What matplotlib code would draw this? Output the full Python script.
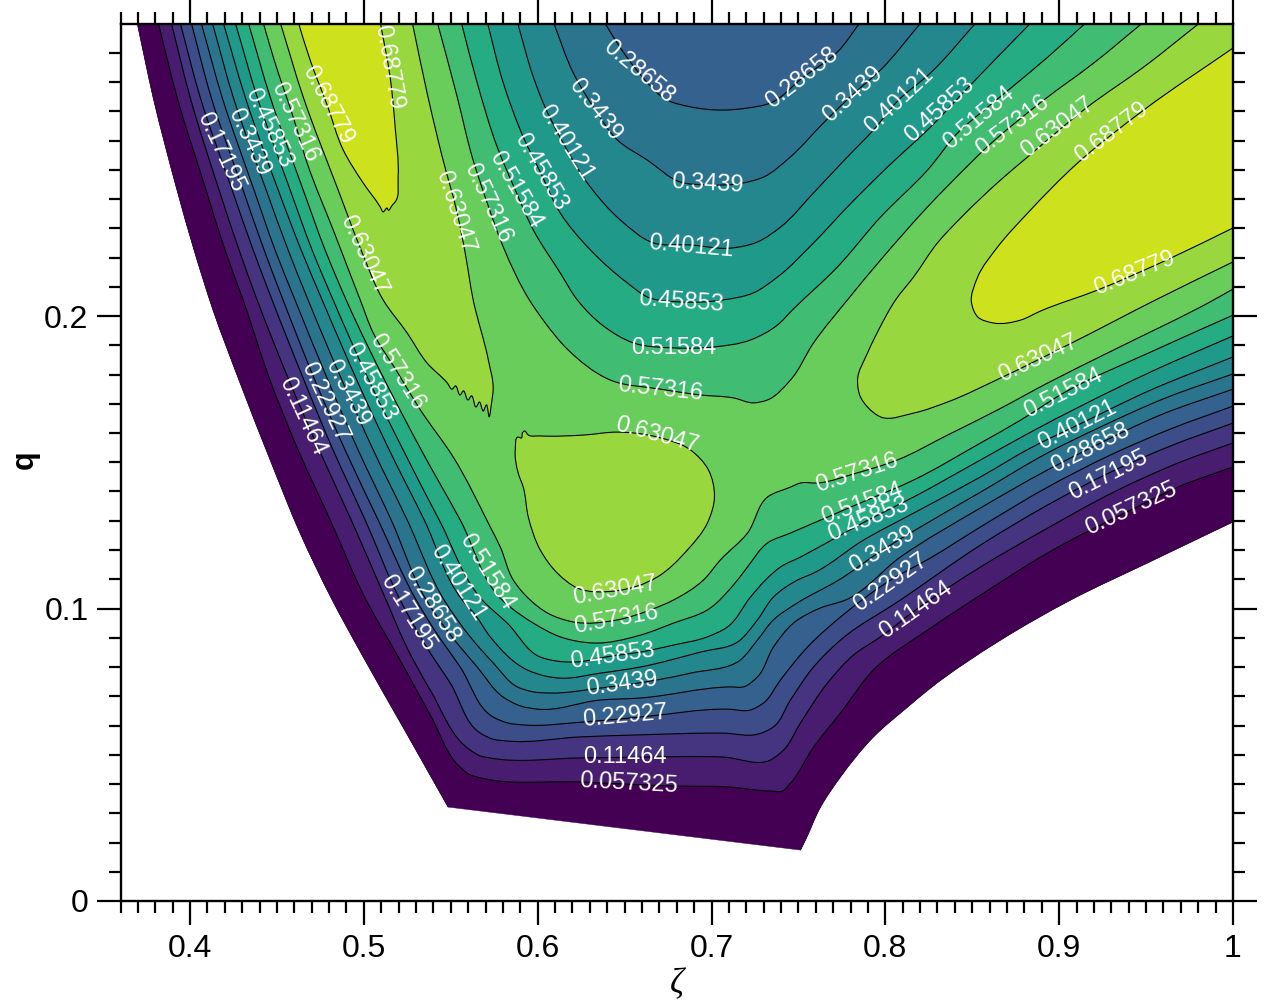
import numpy as np
import matplotlib
matplotlib.use("Agg")
import matplotlib.pyplot as plt
from matplotlib.path import Path
from matplotlib.patches import PathPatch
from matplotlib.ticker import FixedLocator, FixedFormatter, MultipleLocator

plt.rcParams['font.family'] = ['Liberation Sans', 'DejaVu Sans']

levels = [0.057325, 0.11464, 0.17195, 0.22927, 0.28658, 0.3439, 0.40121,
          0.45853, 0.51584, 0.57316, 0.63047, 0.68779]
xticks = [0.4, 0.5, 0.6, 0.7, 0.8, 0.9, 1.0]
xticklabels = ['0.4', '0.5', '0.6', '0.7', '0.8', '0.9', '1']
yticks = [0, 0.1, 0.2]
yticklabels = ['0', '0.1', '0.2']

# outline of the region that has data (zeta, q)
edge_left = [(.3695,.3005),(.3741,.2875),(.3787,.2749),(.3856,.2585),(.3925,.2431),(.4023,.2226),(.4132,.2021),
             (.4288,.1771),(.4461,.1508),(.4633,.1258),(.4812,.1036),(.4990,.0841),(.5215,.0605),(.5485,.0321)]
edge_right = [(.7512,.0174),(.7541,.0209),(.7627,.0321),(.7742,.0424),(.7932,.0561),(.8128,.0663),(.8260,.0728),
              (.8663,.0892),(.9066,.1029),(.9509,.1156),(1.0,.1296)]

# contour lines (zeta, q)
c01 = [(.3816,.3005),(.3925,.2749),(.4092,.2431),(.4201,.2226),(.4305,.2055),(.4466,.1771),(.4622,.1542),(.4806,.1303),
       (.5013,.1029),(.5192,.0841),(.5382,.0636),(.5554,.0458),(.5612,.0431),(.5652,.0424),(.6245,.0407),(.6804,.0393),
       (.7092,.0390),(.7339,.0376),(.7408,.0376),(.7454,.0403),(.7587,.0526),(.7742,.0643),(.7932,.0790),(.8260,.0933),
       (.8548,.1046),(.8934,.1190),(.9412,.1337),(.9699,.1419),(1.0,.1484)]
c02 = [(.3891,.3005),(.4,.2749),(.4167,.2431),(.4282,.2226),(.4386,.2055),(.4576,.1771),(.4743,.1542),(.4927,.1303),
       (.5128,.1029),(.5249,.0865),(.5382,.0721),(.5612,.0516),(.5670,.0496),(.5727,.0489),(.6245,.0489),(.6591,.0492),
       (.7068,.0492),(.7339,.0482),(.7414,.0516),(.7512,.0609),(.7667,.0745),(.7817,.0841),(.7972,.0903),(.8174,.0995),
       (.8548,.1142),(.8934,.1275),(.9314,.1398),(.9699,.1501),(1.0,.1566)]
c03 = [(.3942,.3005),(.4058,.2749),(.4242,.2431),(.4363,.2226),(.4472,.2055),(.4662,.1771),(.4823,.1542),(.5007,.1303),
       (.5209,.1029),(.5364,.0865),(.5497,.0745),(.5670,.0574),(.5739,.0554),(.5825,.0547),(.6245,.0561),(.6591,.0568),
       (.7068,.0574),(.7270,.0571),(.7356,.0595),(.7454,.0687),(.7587,.0800),(.7742,.0892),(.8087,.1029),(.8548,.1217),
       (.8934,.1354),(.9285,.1463),(.9642,.1556),(1.0,.1634)]
c04 = [(.4006,.3005),(.4121,.2749),(.4305,.2431),(.4426,.2226),(.4535,.2055),(.4725,.1771),(.4892,.1542),(.5082,.1303),
       (.5301,.1029),(.5399,.0933),(.5554,.0800),(.5744,.0629),(.5825,.0609),(.5917,.0602),(.6263,.0612),(.6591,.0629),
       (.7092,.0656),(.7224,.0653),(.7299,.0677),(.7397,.0756),(.7552,.0868),(.7771,.0985),(.8030,.1097),(.8260,.1173),
       (.8548,.1279),(.8934,.1415),(.9296,.1525),(.9642,.1614),(1.0,.1692)]
c05 = [(.4063,.3005),(.4184,.2749),(.4368,.2431),(.4489,.2226),(.4604,.2055),(.4800,.1771),(.4967,.1542),(.5157,.1303),
       (.5359,.1029),(.5485,.0920),(.5652,.0800),(.5802,.0697),(.5900,.0667),(.5998,.0656),(.6360,.0687),(.6591,.0694),
       (.7109,.0732),(.7184,.0732),(.7264,.0766),(.7356,.0868),(.7471,.0950),(.7627,.1002),(.7771,.1029),(.8087,.1176),
       (.8548,.1344),(.8934,.1474),(.9181,.1549),(.9584,.1662),(1.0,.1750)]
c05_top = [(.6383,.3005),(.6476,.2916),(.6579,.2834),(.6746,.2738),(.6879,.2715),(.7063,.2704),(.7207,.2711),(.7339,.2728),
           (.7523,.2814),(.7725,.2903),(.7857,.3005)]
c06 = [(.4127,.3005),(.4248,.2749),(.4438,.2431),(.4564,.2226),(.4679,.2055),(.4881,.1771),(.5054,.1542),(.5249,.1303),
       (.5462,.1029),(.5612,.0903),(.5744,.0814),(.5883,.0732),(.5975,.0715),(.6072,.0711),(.6360,.0728),(.6689,.0756),
       (.6879,.0779),(.7166,.0824),(.7264,.0892),(.7356,.0961),(.7494,.1019),(.7731,.1097),(.7984,.1200),(.8203,.1279),
       (.8548,.1398),(.8934,.1532),(.9239,.1621),(.9613,.1720),(1.0,.1802)]
c06_top = [(.6090,.3005),(.6205,.2831),(.6332,.2704),(.6458,.2602),(.6631,.2533),(.6821,.2458),(.6982,.2448),(.7184,.2455),
           (.7299,.2475),(.7454,.2544),(.7644,.2660),(.7811,.2756),(.7972,.2841),(.8208,.3005)]
c07 = [(.4190,.3005),(.4317,.2749),(.4507,.2431),(.4639,.2226),(.4760,.2055),(.4967,.1771),(.5146,.1542),(.5347,.1303),
       (.5566,.1029),(.5641,.0978),(.5727,.0903),(.5940,.0790),(.6044,.0769),(.6130,.0762),(.6360,.0779),(.6591,.0800),
       (.6936,.0851),(.7149,.0885),(.7264,.0961),(.7356,.1039),(.7494,.1097),(.7587,.1121),(.7875,.1234),(.8162,.1326),
       (.8548,.1450),(.8836,.1549),(.9106,.1627),(.9527,.1747),(1.0,.1860)]
c07_top = [(.5883,.3005),(.5975,.2817),(.6032,.2728),(.6147,.2591),(.6303,.2441),(.6476,.2328),(.6665,.2250),(.6879,.2243),
           (.7109,.2232),(.7264,.2253),(.7397,.2304),(.7587,.2421),(.7782,.2544),(.7932,.2636),(.8076,.2738),(.8260,.2831),
           (.8525,.3005)]
c08 = [(.4259,.3005),(.4386,.2749),(.4576,.2431),(.4702,.2226),(.4823,.2055),(.5036,.1771),(.5226,.1542),(.5433,.1303),
       (.5681,.1029),(.5825,.0950),(.6015,.0834),(.6101,.0821),(.6205,.0817),(.6429,.0838),(.6591,.0851),(.6781,.0875),
       (.6976,.0903),(.7092,.0937),(.7224,.1039),(.7310,.1097),(.7397,.1142),(.7512,.1176),(.7587,.1200),(.7903,.1303),
       (.8162,.1381),(.8548,.1508),(.8836,.1603),(.9124,.1692),(.9527,.1809),(1.0,.1932)]
c08_top = [(.5710,.3005),(.5802,.2797),(.5917,.2612),(.6015,.2492),(.6130,.2352),(.6303,.2226),(.6516,.2113),(.6631,.2065),
           (.6827,.2048),(.7068,.2055),(.7241,.2079),(.7379,.2133),(.7587,.2250),(.7782,.2373),(.8012,.2509),(.8260,.2646),
           (.8490,.2790),(.8842,.3005)]
c09 = [(.4334,.3005),(.4461,.2749),(.4651,.2431),(.4777,.2226),(.4898,.2055),(.5128,.1771),(.5330,.1542),(.5554,.1303),
       (.5796,.1029),(.5842,.1005),(.5975,.0950),(.6130,.0903),(.6320,.0882),(.6591,.0909),(.6781,.0950),(.6976,.0995),
       (.7149,.1097),(.7207,.1142),(.7322,.1224),(.7454,.1258),(.7587,.1292),(.7869,.1364),(.8162,.1439),(.8548,.1566),
       (.8778,.1644),(.9026,.1737),(.9527,.1877),(1.0,.2003)]
c09_top = [(.5560,.3005),(.5652,.2797),(.5767,.2578),(.5871,.2431),(.5975,.2294),(.6130,.2147),(.6228,.2055),(.6378,.1966),
           (.6550,.1908),(.6781,.1891),(.7011,.1894),(.7224,.1918),(.7379,.1969),(.7466,.2021),(.7725,.2168),(.7972,.2338),
           (.8243,.2499),(.8433,.2636),(.8548,.2694),(.8709,.2773),(.8934,.2885),(.9158,.3005)]
c10 = [(.4420,.3005),(.4484,.2875),(.4599,.2670),(.4668,.2533),(.4835,.2277),(.4979,.2055),(.5054,.1942),(.5192,.1809),
       (.5325,.1679),(.5514,.1518),(.5727,.1279),(.5785,.1210),(.5860,.1097),(.5957,.1029),(.6055,.0985),(.6205,.0954),
       (.6458,.0961),(.6648,.0995),(.6781,.1029),(.6953,.1097),(.7051,.1166),(.7207,.1258),(.7322,.1381),(.7454,.1415),
       (.7512,.1429),(.7610,.1429),(.7834,.1463),(.8070,.1508),(.8358,.1593),(.8646,.1679),(.8934,.1771),(.9314,.1884),
       (.9889,.2055),(1.0,.2092)]
c10_top = [(.5422,.3005),(.5537,.2749),(.5623,.2544),(.5710,.2386),(.5802,.2236),(.5952,.2055),(.6044,.1976),(.6170,.1887),
           (.6418,.1781),(.6706,.1750),(.6936,.1730),(.7126,.1720),(.7241,.1703),(.7322,.1713),(.7454,.1781),(.7587,.1908),
           (.7782,.2055),(.7972,.2191),(.8243,.2373),(.8490,.2523),(.8548,.2557),(.8911,.2738),(.9199,.2865),(.9486,.3005)]
c11_lobe = [(.4518,.3005),(.4651,.2749),(.4852,.2431),(.4984,.2226),(.5111,.2055),(.5249,.1942),(.5364,.1839),(.5480,.1771),
            (.5508,.1750),(.5526,.1761),(.5554,.1730),(.5572,.1744),(.5600,.1713),(.5618,.1727),(.5646,.1689),(.5664,.1706),
            (.5687,.1675),(.5704,.1696),(.5721,.1655),(.5733,.1696),(.5744,.1754),(.5716,.1850),
            (.5629,.2055),(.5583,.2215),(.5537,.2352),(.5451,.2544),(.5364,.2762),(.5278,.3005)]
c11_blob = [(.5911,.1600),(.5906,.1583),(.5888,.1586),(.5871,.1542),(.5888,.1463),(.5917,.1415),(.5946,.1313),(.6015,.1200),(.6113,.1121),
            (.6228,.1070),(.6447,.1060),(.6689,.1108),(.6861,.1200),(.6976,.1292),(.7017,.1381),(.6982,.1474),(.6879,.1542),
            (.6689,.1586),(.6458,.1603),(.6263,.1593),(.6015,.1590),(.5946,.1593),(.5923,.1607),(.5911,.1600)]
c11_right = [(.9815,.3005),(.9486,.2851),(.9164,.2715),(.8819,.2544),(.8663,.2465),(.8433,.2335),(.8300,.2250),(.8162,.2133),
             (.8059,.2055),(.7961,.1952),(.7897,.1873),(.7840,.1781),(.7857,.1723),(.7897,.1689),(.7972,.1655),(.8162,.1668),
             (.8358,.1706),(.8663,.1788),(.9083,.1911),(.9555,.2055),(1.0,.2185)]
c12_lobe = [(.4622,.3005),(.4691,.2875),(.4789,.2721),(.4881,.2568),(.4996,.2455),(.5094,.2373),(.5111,.2356),(.5134,.2369),
            (.5140,.2362),(.5165,.2380),(.5180,.2390),(.5197,.2475),(.5180,.2646),(.5151,.2817),(.5094,.3005)]
c12_right = [(1.0,.2916),(.9486,.2704),(.9106,.2523),(.8819,.2352),(.8646,.2236),(.8531,.2133),(.8496,.2044),(.8531,.1997),
             (.8623,.1976),(.8778,.1986),(.8893,.2017),(.9222,.2089),(.9642,.2198),(1.0,.2301)]

# contour labels: text, zeta, q, angle as seen on the chart
label_text = ['0.68779','0.68779','0.57316','0.45853','0.3439','0.17195','0.63047','0.28658','0.3439','0.40121','0.45853',
              '0.51584','0.57316','0.63047','0.28658','0.3439','0.40121','0.45853','0.51584','0.57316','0.63047','0.68779',
              '0.3439','0.40121','0.45853','0.51584','0.57316','0.63047','0.68779','0.63047','0.51584','0.40121','0.28658',
              '0.17195','0.057325','0.57316','0.51584','0.45853','0.3439','0.22927','0.11464','0.63047','0.57316','0.45853',
              '0.3439','0.22927','0.11464','0.057325','0.57316','0.45853','0.3439','0.22927','0.11464','0.51584','0.40121',
              '0.28658','0.17195']
label_x = [.5140,.4789,.4604,.4449,.4340,.4173,.4996,.6579,.6332,.6159,.6015,.5871,.5710,.5526,.7523,.7811,.8082,.8312,.8537,
           .8732,.8991,.9302,.6976,.6884,.6827,.6781,.6706,.6689,.9435,.8882,.9026,.9106,.9181,.9285,.9412,.7834,.7869,.7903,
           .7984,.8030,.8174,.6447,.6452,.6429,.6487,.6504,.6504,.6522,.5192,.5036,.4904,.4777,.4645,.5710,.5543,.5393,.5255]
label_y = [.2851,.2721,.2663,.2643,.2595,.2561,.2209,.2834,.2704,.2591,.2492,.2431,.2386,.2356,.2814,.2756,.2738,.2704,.2677,
           .2653,.2646,.2626,.2451,.2236,.2048,.1891,.1750,.1593,.2147,.1856,.1737,.1627,.1549,.1456,.1340,.1463,.1357,.1303,
           .1200,.1087,.0995,.1060,.0961,.0838,.0742,.0632,.0492,.0403,.1809,.1774,.1737,.1706,.1658,.1125,.1087,.1012,.0985]
label_angle = [-80,-62,-65,-65,-65,-65,-65,-40,-52,-58,-60,-60,-65,-72,38,42,43,42,40,37,37,37,-3,-5,-4,0,-6,-15,22,25,27,27,
               27,27,25,18,20,22,30,35,35,10,10,8,8,5,0,-3,-58,-62,-62,-65,-65,-58,-58,-58,-58]


def run(pts):
    """Bezier segments through the given vertices (no MOVETO), chord-length tangents."""
    p = np.asarray(pts, float)
    scale = np.array([1737.0, 2925.0])
    q = p * scale
    n = len(q)
    d = np.maximum(np.hypot(*(q[1:] - q[:-1]).T), 1e-6)
    m = np.zeros_like(q)
    m[0] = (q[1] - q[0]) / d[0]
    m[-1] = (q[-1] - q[-2]) / d[-1]
    for i in range(1, n - 1):
        m[i] = ((q[i + 1] - q[i]) / d[i] * d[i - 1] + (q[i] - q[i - 1]) / d[i - 1] * d[i]) / (d[i - 1] + d[i])
    v, c = [], []
    for i in range(n - 1):
        v += [(q[i] + m[i] * d[i] / 3) / scale, (q[i + 1] - m[i + 1] * d[i] / 3) / scale, p[i + 1]]
        c += [Path.CURVE4] * 3
    return v, c


def shape(*parts):
    """Closed path; lists are smooth runs joined by straight sides."""
    verts, codes = [], []
    for pts in parts:
        verts.append(np.array(pts[0], float))
        codes.append(Path.LINETO if len(verts) > 1 else Path.MOVETO)
        v, c = run(pts)
        verts += v
        codes += c
    verts.append(verts[0])
    codes.append(Path.CLOSEPOLY)
    return Path(np.array(verts), codes)


def line(pts):
    v, c = run(pts)
    return Path(np.array([np.array(pts[0], float)] + v), [Path.MOVETO] + c)


TOP = 0.3005
corner = [(1.0, TOP), (1.0, TOP + 0.0001)]
fig = plt.figure(figsize=(12.68, 10.06), dpi=100)
W, H = 1268.0, 1006.0
ax = fig.add_axes([120.5 / W, (H - 901) / H, (1233 - 120.5) / W, (901 - 23.5) / H])
ax.set_xlim(0.36, 1.0)
ax.set_ylim(0, 0.3)

cmap = plt.get_cmap('viridis')
color = lambda i: cmap(i * 0.077)


def fill(path, i):
    ax.add_patch(PathPatch(path, facecolor=color(i), edgecolor=color(i), lw=0.3, zorder=2 + i * 0.01))


# lowest band: whole region with data
fill(shape(edge_left, edge_right, corner), 0)

open_bands = [(c01, None), (c02, None), (c03, None), (c04, None), (c05, c05_top), (c06, c06_top),
              (c07, c07_top), (c08, c08_top), (c09, c09_top), (c10, c10_top)]
for i, (low, up) in enumerate(open_bands, start=1):
    if up is None:
        fill(shape(low, corner), i)
    else:
        fill(shape(low, corner, up[::-1]), i)

fill(shape(c11_lobe), 11)
fill(shape(c11_blob), 11)
fill(shape(c11_right, corner), 11)
fill(shape(c12_lobe), 12)
fill(shape(c12_right), 12)

strokes = [c01, c02, c03, c04, c05, c05_top, c06, c06_top, c07, c07_top, c08, c08_top, c09, c09_top,
           c10, c10_top, c11_lobe, c11_blob, c11_right, c12_lobe, c12_right]
for s in strokes:
    ax.add_patch(PathPatch(line(s), facecolor='none', edgecolor='black', lw=0.8, zorder=3))
for s in (edge_left, edge_right):
    ax.add_patch(PathPatch(line(s), facecolor='none', edgecolor='#1a0022', lw=0.5, zorder=3))

for t, x, y, a in zip(label_text, label_x, label_y, label_angle):
    ax.text(x, y, t, color='white', fontsize=17, rotation=a, rotation_mode='anchor',
            ha='center', va='center', zorder=4)

# axes
ax.xaxis.set_major_locator(FixedLocator(xticks))
ax.xaxis.set_major_formatter(FixedFormatter(xticklabels))
ax.xaxis.set_minor_locator(MultipleLocator(0.01))
ax.yaxis.set_major_locator(FixedLocator(yticks))
ax.yaxis.set_major_formatter(FixedFormatter(yticklabels))
ax.yaxis.set_minor_locator(FixedLocator([i / 100 for i in range(30)]))
ax.tick_params(which='major', direction='out', length=17, width=1.6, top=True, right=True,
               labelsize=23, pad=7)
ax.tick_params(which='minor', direction='out', length=8.6, width=1.6, top=True, right=True)
ax.tick_params(axis='y', which='major', pad=6)
for sp in ax.spines.values():
    sp.set_linewidth(1.7)
    sp.set_zorder(6)

fig.text(25 / W, 1 - 460 / H, 'q', rotation=90, fontsize=22, fontweight='bold', ha='center', va='center')
fig.text(677 / W, 1 - 985 / H, 'ζ', fontsize=25, style='italic', family=['Liberation Serif', 'DejaVu Serif'],
         ha='center', va='center')

fig.savefig('out.png', dpi=100)
